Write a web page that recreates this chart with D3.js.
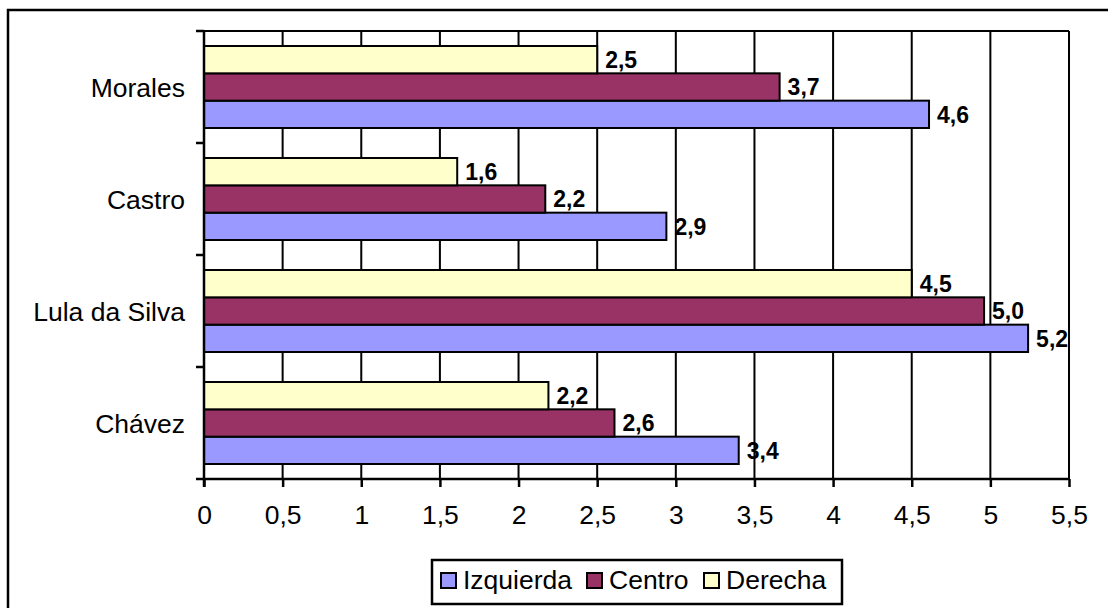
<!DOCTYPE html>
<html><head><meta charset="utf-8">
<script src="https://cdn.jsdelivr.net/npm/d3@7"></script>
<style>html,body{margin:0;padding:0;background:#fff;}svg{display:block;}</style>
</head><body>
<svg id="c" width="1108" height="608"></svg>
<script>
const categories = ["Morales", "Castro", "Lula da Silva", "Chávez"];
const seriesNames = ["Izquierda", "Centro", "Derecha"];
const izquierda = [4.61, 2.94, 5.24, 3.40];
const centro    = [3.66, 2.17, 4.96, 2.61];
const derecha   = [2.50, 1.61, 4.50, 2.19];
const xTicks = [0, 0.5, 1, 1.5, 2, 2.5, 3, 3.5, 4, 4.5, 5, 5.5];
const colors = {"Izquierda": "#9999FF", "Centro": "#993366", "Derecha": "#FFFFCC"};

const seriesValues = {"Izquierda": izquierda, "Centro": centro, "Derecha": derecha};
const svg = d3.select("#c");
const font = "'Liberation Sans', Arial, sans-serif";

// outer chart border
svg.append("rect").attr("x", 8).attr("y", 10).attr("width", 1200).attr("height", 700)
  .attr("fill", "#fff").attr("stroke", "#000").attr("stroke-width", 2.5);

const L = 204, R = 1069, T = 31, B = 479;
const x = d3.scaleLinear().domain([0, 5.5]).range([L, R]);
const y = d3.scaleBand().domain(categories).range([T, B]).padding(0);
const inner = d3.scaleBand().domain(["Derecha", "Centro", "Izquierda"])
  .range([15, y.bandwidth() - 15]).padding(0);

// gridlines
svg.append("g").selectAll("line").data(xTicks.slice(1)).join("line")
  .attr("x1", d => x(d)).attr("x2", d => x(d)).attr("y1", T).attr("y2", B)
  .attr("stroke", "#000").attr("stroke-width", 2);
// plot area top border
svg.append("line").attr("x1", L).attr("x2", R).attr("y1", T).attr("y2", T)
  .attr("stroke", "#000").attr("stroke-width", 2);

// bars
const rows = [];
categories.forEach((c, i) => seriesNames.forEach(s => rows.push({c, s, v: seriesValues[s][i]})));
svg.append("g").selectAll("rect").data(rows).join("rect")
  .attr("x", x(0))
  .attr("y", d => y(d.c) + inner(d.s))
  .attr("width", d => x(d.v) - x(0))
  .attr("height", inner.bandwidth())
  .attr("fill", d => colors[d.s]).attr("stroke", "#000").attr("stroke-width", 2);

// value labels
const fmt = d => d3.format(".1f")(d).replace(".", ",");
svg.append("g").selectAll("text").data(rows).join("text")
  .attr("x", d => x(d.v) + 8)
  .attr("y", d => y(d.c) + inner(d.s) + inner.bandwidth() / 2)
  .attr("dy", "0.36em")
  .attr("font-family", font).attr("font-weight", "bold").attr("font-size", 23)
  .attr("fill", "#000").text(d => fmt(d.v));

// x axis
const xAxis = d3.axisBottom(x).tickValues(xTicks).tickSize(8).tickPadding(18)
  .tickFormat(d => String(d).replace(".", ","));
const gx = svg.append("g").attr("transform", `translate(0,${B})`).call(xAxis);
gx.select(".domain").attr("stroke", "#000").attr("stroke-width", 2.5).attr("d", `M${L},0H${R}`);
gx.selectAll(".tick line").attr("stroke", "#000").attr("stroke-width", 2.5);
gx.selectAll(".tick text").attr("font-family", font).attr("font-size", 26.5).attr("fill", "#000");

// y axis
const yAxisBoundaries = categories.map(c => y(c)).concat([B]);
const gy = svg.append("g");
gy.append("line").attr("x1", L).attr("x2", L).attr("y1", T).attr("y2", B + 8)
  .attr("stroke", "#000").attr("stroke-width", 2.5);
gy.selectAll("line.t").data(yAxisBoundaries).join("line").attr("class", "t")
  .attr("x1", L - 8).attr("x2", L).attr("y1", d => d).attr("y2", d => d)
  .attr("stroke", "#000").attr("stroke-width", 2.5);
gy.selectAll("text").data(categories).join("text")
  .attr("x", L - 19).attr("y", d => y(d) + y.bandwidth() / 2).attr("dy", "0.36em")
  .attr("text-anchor", "end").attr("font-family", font).attr("font-size", 26.5)
  .attr("fill", "#000").text(d => d);

// legend
const lg = svg.append("g");
lg.append("rect").attr("x", 432).attr("y", 560).attr("width", 410).attr("height", 44)
  .attr("fill", "#fff").attr("stroke", "#000").attr("stroke-width", 2.5);
const legendX = {"Izquierda": 441, "Centro": 587, "Derecha": 704};
seriesNames.forEach(s => {
  lg.append("rect").attr("x", legendX[s]).attr("y", 573).attr("width", 15).attr("height", 15)
    .attr("fill", colors[s]).attr("stroke", "#000").attr("stroke-width", 2);
  lg.append("text").attr("x", legendX[s] + 22).attr("y", 589)
    .attr("font-family", font).attr("font-size", 26.5).attr("fill", "#000").text(s);
});
</script>
</body></html>
